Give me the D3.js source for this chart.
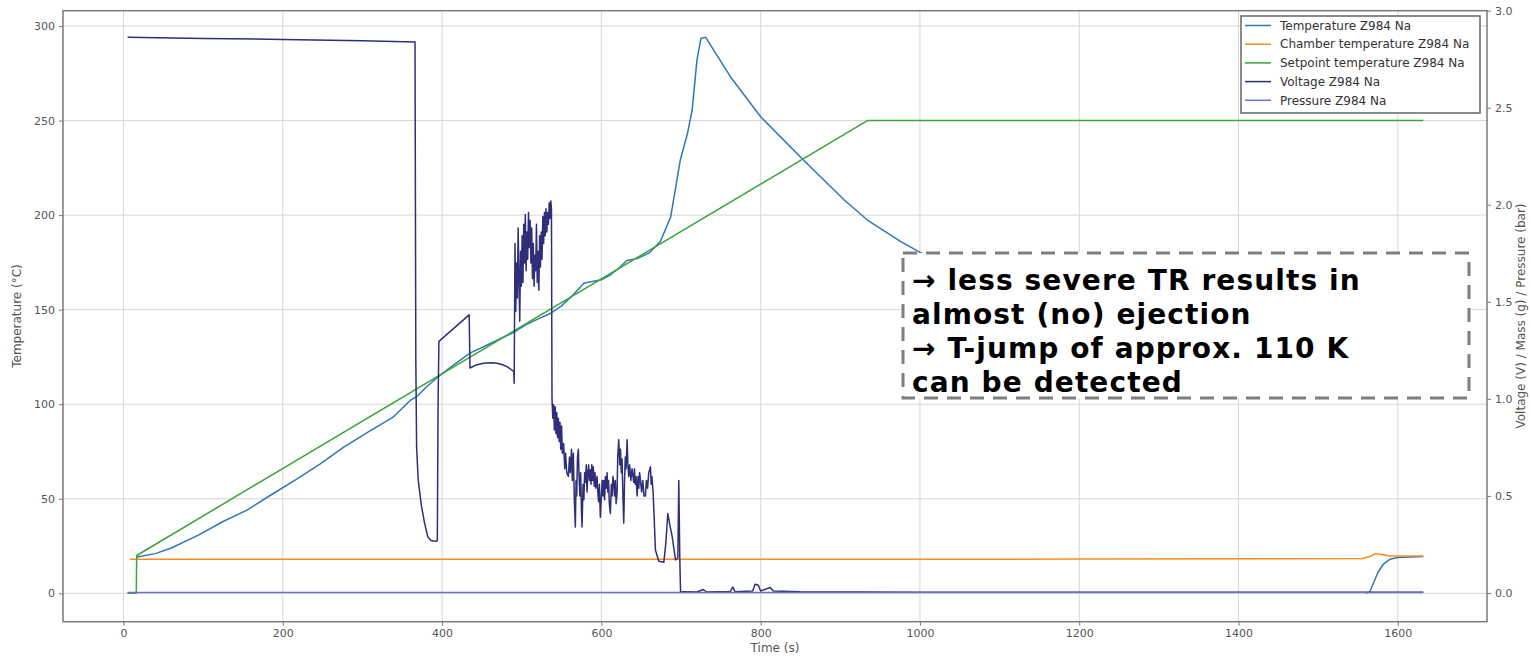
<!DOCTYPE html>
<html>
<head>
<meta charset="utf-8">
<script src="https://cdn.jsdelivr.net/npm/d3@7"></script>
<style>
  body { margin: 0; background: #fff; }
  text { font-family: "DejaVu Sans", sans-serif; }
</style>
</head>
<body>
<svg id="chart" width="1531" height="660"></svg>
<script>
// ticks
const timeTicks = [0, 200, 400, 600, 800, 1000, 1200, 1400, 1600];
const tempTicks = [0, 50, 100, 150, 200, 250, 300];
const rightTicks = [0, 0.5, 1.0, 1.5, 2.0, 2.5, 3.0];

// series: [time (s), value]
const temperature = [
  [17, 19.2], [40, 21], [60, 24], [94, 30.8], [125, 38], [155, 44], [185, 52], [216, 60],
  [247, 68.5], [277, 77.4], [308, 85.5], [338, 93], [360, 102], [368, 104], [380, 109],
  [395, 114.5], [415, 121], [435, 127], [460, 132], [475, 135], [490, 138], [505, 142],
  [520, 145], [536, 148], [550, 152], [565, 158], [578, 164], [590, 165], [599, 165.7],
  [610, 168], [622, 172], [632, 176], [645, 177], [660, 180], [674, 186], [687, 199],
  [699, 229], [708, 243], [714, 255.6], [720, 282], [725, 293.5], [731, 294], [741, 287.3],
  [762, 273.2], [800, 252], [854, 229], [905, 208], [934, 197.4], [976, 186], [1010, 178],
  [1040, 172], [1070, 166], [1100, null],
  [1560, 0], [1565, 1], [1570, 6], [1575, 11], [1582, 15.5], [1590, 18], [1600, 19], [1632, 19.5]
];
const chamber = [
  [8, 18], [400, 18], [800, 18], [1200, 18.1], [1555, 18.4], [1565, 19.5], [1572, 21],
  [1580, 20.5], [1590, 19.8], [1632, 19.7]
];
const setpoint = [
  [5, 0], [16, 0], [16.5, 20], [934, 250], [1632, 250]
];
const voltage = [
  [5, 2.863], [100, 2.857], [200, 2.852], [300, 2.845], [366, 2.839],
  [367, 1.2], [368, 0.75], [370, 0.583], [374, 0.45], [378, 0.36], [382, 0.29], [386, 0.27],
  [392, 0.266], [394, 0.27], [395, 1.0], [396, 1.296], [434, 1.433], [435, 1.159], [443, 1.175],
  [452, 1.184], [461, 1.186], [469, 1.184], [476, 1.176], [482, 1.165], [487, 1.15], [490, 1.141],
  [490.5, 1.081], [491.5, 1.80], [492.5, 1.45], [493.5, 1.70], [494.5, 1.52], [495.5, 1.88],
  [496.5, 1.62], [497.5, 1.40], [498.5, 1.76], [499.5, 1.58], [500.5, 1.84], [501.5, 1.60],
  [502.5, 1.90], [503.5, 1.70], [504.5, 1.95], [505.5, 1.66], [506.5, 1.86], [507.5, 1.72],
  [508.5, 1.96], [509.5, 1.78], [510.5, 1.92], [511.5, 1.70], [512.5, 1.88], [513.5, 1.62],
  [514.5, 1.80], [515.5, 1.58], [516.5, 1.74], [517.5, 1.66], [518.5, 1.90], [519.5, 1.60],
  [520.5, 1.76], [521.5, 1.56], [522.5, 1.84], [523.5, 1.68], [524.5, 1.86], [525.5, 1.72],
  [526.5, 1.94], [527.5, 1.80], [528.5, 1.96], [529.5, 1.84], [530.5, 1.98], [531.5, 1.86],
  [532.5, 1.96], [533.5, 1.90], [534.5, 2.01], [535.5, 1.93], [536.5, 2.02], [537.3, 1.98],
  [538, 1.0], [539, 0.90], [540, 0.97], [541, 0.84], [542, 0.96], [543, 0.82], [544, 0.93],
  [545, 0.80], [546, 0.90], [547, 0.78], [548, 0.88], [549, 0.74], [550, 0.86], [551, 0.72],
  [552.6, 0.77], [554, 0.64], [555, 0.72], [556.5, 0.62], [558.5, 0.60], [560, 0.70],
  [561, 0.62], [562.5, 0.74], [563.5, 0.58], [564.8, 0.72], [566, 0.48], [567.3, 0.34],
  [568.2, 0.58], [569, 0.50], [570, 0.70], [571.1, 0.74], [572, 0.60], [573, 0.50],
  [574, 0.62], [575, 0.42], [575.7, 0.34], [577, 0.56], [578, 0.48], [579, 0.62],
  [579.9, 0.57], [581, 0.66], [582, 0.52], [583, 0.62], [584, 0.66], [585, 0.58],
  [586.2, 0.635], [587, 0.56], [588, 0.66], [589, 0.58], [589.9, 0.65], [591, 0.55],
  [592, 0.62], [593, 0.54], [594.6, 0.60], [595.5, 0.52], [596.5, 0.47], [597.5, 0.56],
  [598.7, 0.39], [600, 0.50], [601, 0.58], [602, 0.50], [602.9, 0.58], [604, 0.48],
  [605, 0.60], [606, 0.54], [607.2, 0.62], [608, 0.52], [609, 0.58], [610, 0.46],
  [611.3, 0.41], [612.5, 0.56], [613.5, 0.50], [614.5, 0.60], [615.5, 0.57], [616.5, 0.50],
  [617.5, 0.58], [618.5, 0.46], [619.7, 0.515], [620.5, 0.70], [621.8, 0.79], [623, 0.66],
  [624, 0.74], [625, 0.62], [626, 0.69], [627, 0.50], [628.1, 0.36], [629, 0.56],
  [630, 0.70], [631, 0.64], [632.3, 0.79], [633.3, 0.66], [634.3, 0.60], [635.5, 0.66],
  [637, 0.58], [638.5, 0.64], [640.6, 0.57], [641.5, 0.64], [642.5, 0.56], [643.5, 0.60],
  [644.9, 0.50], [646, 0.60], [647, 0.54], [648, 0.62], [649.1, 0.58], [650.5, 0.52],
  [652, 0.58], [653.5, 0.50], [655.3, 0.50], [656.5, 0.58], [658, 0.54], [659.5, 0.62],
  [661.6, 0.65], [662.5, 0.56], [663.5, 0.60], [665, 0.515], [667.9, 0.22],
  [672.1, 0.163], [678.4, 0.158], [681, 0.26], [683.4, 0.41], [686, 0.35], [688.9, 0.29],
  [693.1, 0.17], [696, 0.18], [697.2, 0.58], [698.5, 0.17], [699.4, 0.008],
  [720, 0.005], [728, 0.018], [732, 0.005], [762, 0.008], [765, 0.03], [768, 0.006],
  [790, 0.01], [793, 0.045], [797, 0.04], [800, 0.01], [812, 0.028], [816, 0.01],
  [850, 0.006], [1000, 0.004], [1632, 0.004]
];
const pressure = [
  [5, 0.002], [400, 0.002], [800, 0.002], [1200, 0.003], [1632, 0.003]
];

const seriesNames = [
  "Temperature Z984 Na", "Chamber temperature Z984 Na", "Setpoint temperature Z984 Na",
  "Voltage Z984 Na", "Pressure Z984 Na"
];
const colors = ["#2f78b5", "#ff8a1e", "#3aa33a", "#2e2f78", "#6f6fcc"];

const notes = [
  "\u2192 less severe TR results in",
  "almost (no) ejection",
  "\u2192 T-jump of approx. 110 K",
  "can be detected"
];

const svg = d3.select("#chart");
const plot = { left: 63, right: 1487, top: 10.7, bottom: 621.7 };

const x = d3.scaleLinear().domain([-76, 1712]).range([plot.left, plot.right]);
const yL = d3.scaleLinear().domain([-15, 308.1]).range([plot.bottom, plot.top]);
const yR = d3.scaleLinear().domain([-0.148, 3.0]).range([plot.bottom, plot.top]);

svg.append("rect").attr("width", 1531).attr("height", 660).attr("fill", "#fff");

// grid
const grid = svg.append("g");
grid.selectAll(".gx").data(timeTicks).join("line")
  .attr("x1", d => x(d)).attr("x2", d => x(d))
  .attr("y1", plot.top).attr("y2", plot.bottom)
  .attr("stroke", "#d6d6d6").attr("stroke-width", 1);
grid.selectAll(".gy").data(tempTicks).join("line")
  .attr("x1", plot.left).attr("x2", plot.right)
  .attr("y1", d => yL(d)).attr("y2", d => yL(d))
  .attr("stroke", "#d6d6d6").attr("stroke-width", 1);

const lineL = d3.line().defined(d => d[1] != null).x(d => x(d[0])).y(d => yL(d[1]));
const lineR = d3.line().x(d => x(d[0])).y(d => yR(d[1]));

const drawn = svg.append("g").attr("fill", "none").attr("stroke-width", 1.5)
  .attr("stroke-linejoin", "round");
drawn.append("path").attr("d", lineL(temperature)).attr("stroke", colors[0]);
drawn.append("path").attr("d", lineL(chamber)).attr("stroke", colors[1]);
drawn.append("path").attr("d", lineL(setpoint)).attr("stroke", colors[2]);
drawn.append("path").attr("d", lineR(voltage)).attr("stroke", colors[3]);
drawn.append("path").attr("d", lineR(pressure)).attr("stroke", colors[4]);

// axes
const axisColor = "#7a7a7a";
const gx = svg.append("g").attr("transform", `translate(0,${plot.bottom})`)
  .call(d3.axisBottom(x).tickValues(timeTicks).tickFormat(d3.format("d")).tickSize(4).tickPadding(4));
const gl = svg.append("g").attr("transform", `translate(${plot.left},0)`)
  .call(d3.axisLeft(yL).tickValues(tempTicks).tickSize(4).tickPadding(4));
const gr = svg.append("g").attr("transform", `translate(${plot.right},0)`)
  .call(d3.axisRight(yR).tickValues(rightTicks).tickFormat(d3.format(".1f")).tickSize(4).tickPadding(4));
[gx, gl, gr].forEach(g => {
  g.select(".domain").remove();
  g.selectAll(".tick line").attr("stroke", axisColor);
  g.selectAll(".tick text").attr("fill", "#555").style("font-size", "11px");
});

svg.append("rect")
  .attr("x", plot.left).attr("y", plot.top)
  .attr("width", plot.right - plot.left).attr("height", plot.bottom - plot.top)
  .attr("fill", "none").attr("stroke", axisColor).attr("stroke-width", 1.5);

svg.append("text").attr("x", 775).attr("y", 652).attr("text-anchor", "middle")
  .attr("fill", "#555").style("font-size", "12px").text("Time (s)");
svg.append("text").attr("transform", "translate(21,316) rotate(-90)").attr("text-anchor", "middle")
  .attr("fill", "#555").style("font-size", "12px").text("Temperature (\u00b0C)");
svg.append("text").attr("transform", "translate(1525,316) rotate(-90)").attr("text-anchor", "middle")
  .attr("fill", "#555").style("font-size", "12px").text("Voltage (V) / Mass (g) / Pressure (bar)");

// legend
const legend = svg.append("g");
legend.append("rect").attr("x", 1241).attr("y", 16).attr("width", 239).attr("height", 97)
  .attr("fill", "#fff").attr("stroke", "#6e6e6e").attr("stroke-width", 1.6);
const rows = legend.selectAll(".row").data(seriesNames).join("g")
  .attr("transform", (d, i) => `translate(1245,${25.5 + i * 18.7})`);
rows.append("line").attr("x1", 0).attr("x2", 26).attr("stroke", (d, i) => colors[i]).attr("stroke-width", 1.5);
rows.append("text").attr("x", 35).attr("dy", "0.35em").attr("fill", "#333")
  .style("font-size", "12px").text(d => d);

// annotation box
const note = svg.append("g");
note.append("rect").attr("x", 903).attr("y", 253).attr("width", 566).attr("height", 145)
  .attr("fill", "#fff").attr("stroke", "#7f7f7f").attr("stroke-width", 3)
  .attr("stroke-dasharray", "14 9");
note.selectAll("text").data(notes).join("text")
  .attr("x", 912).attr("y", (d, i) => 290 + i * 34)
  .attr("font-weight", "bold").style("font-size", "28px").style("letter-spacing", "1.1px")
  .attr("fill", "#000")
  .text(d => d);
</script>
</body>
</html>
